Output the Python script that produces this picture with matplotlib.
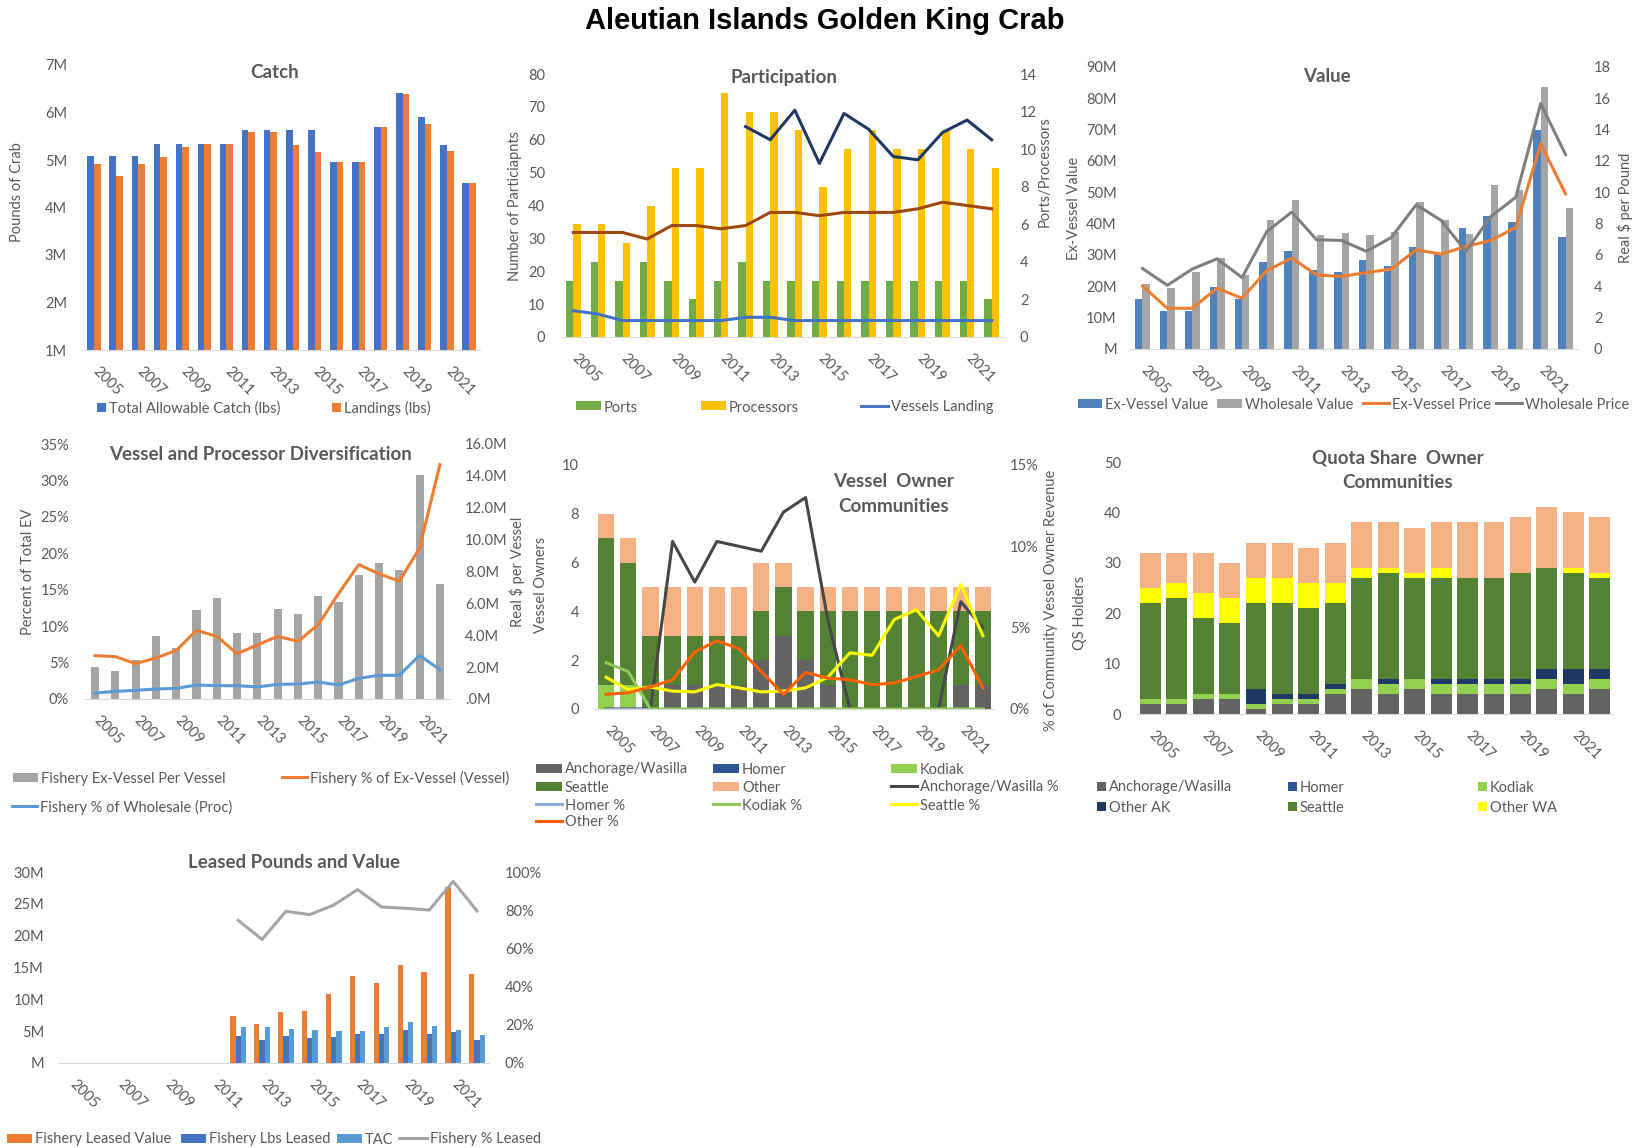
import numpy as np
import matplotlib
matplotlib.use("Agg")
import matplotlib.pyplot as plt
from matplotlib.patches import Rectangle
from matplotlib.lines import Line2D
from matplotlib.ticker import FuncFormatter
from matplotlib.transforms import ScaledTranslation

plt.rcParams['font.family'] = ['Lato', 'DejaVu Sans']

nan = np.nan
years = list(range(2005, 2023))
year_labels = [str(y) for y in years[::2]]

# Catch (lbs, millions)
catch_tac = [5.09, 5.09, 5.09, 5.34, 5.34, 5.34, 5.34, 5.64, 5.64, 5.64, 5.64, 4.95, 4.95, 5.69, 6.42, 5.91, 5.31, 4.51]
catch_landings = [4.92, 4.66, 4.91, 5.06, 5.28, 5.34, 5.34, 5.60, 5.60, 5.32, 5.16, 4.95, 4.95, 5.69, 6.40, 5.76, 5.18, 4.51]

# Participation
ports = [3, 4, 3, 4, 3, 2, 3, 4, 3, 3, 3, 3, 3, 3, 3, 3, 3, 2]
processors = [6, 6, 5, 7, 9, 9, 13, 12, 12, 11, 8, 10, 11, 10, 10, 11, 10, 9]
vessels_landing = [8, 7, 5, 5, 5, 5, 5, 6, 6, 5, 5, 5, 5, 5, 5, 5, 5, 5]
part_navy = [nan] * 7 + [64, 60, 69, 52.8, 68, 63.2, 54.9, 53.9, 62.2, 66, 60]
part_brown = [31.8, 31.8, 31.8, 29.8, 33.9, 33.9, 32.9, 33.9, 37.9, 37.9, 36.9, 37.9, 37.9, 37.9, 39, 41, 40, 39]

# Value ($ millions, $ per lb)
ev_value = [16.0, 12.2, 12.2, 19.8, 16.0, 27.9, 31.4, 25.2, 24.7, 28.3, 26.5, 32.5, 30.3, 38.7, 42.4, 40.6, 69.9, 35.8]
ws_value = [20.7, 19.5, 24.7, 29.1, 23.6, 41.3, 47.5, 36.4, 37.1, 36.4, 37.2, 46.8, 41.1, 36.7, 52.5, 50.7, 83.5, 44.9]
ev_price = [4.03, 2.6, 2.6, 3.88, 3.24, 5.01, 5.8, 4.73, 4.63, 4.88, 5.1, 6.33, 6.06, 6.55, 6.93, 7.76, 13.1, 9.9]
ws_price = [5.14, 4.07, 5.1, 5.76, 4.56, 7.5, 8.74, 6.97, 6.93, 6.23, 7.12, 9.21, 8.21, 6.23, 8.46, 9.68, 15.67, 12.41]

# Diversification
ev_per_vessel = [2.01, 1.74, 2.47, 3.93, 3.20, 5.56, 6.31, 4.14, 4.14, 5.65, 5.35, 6.49, 6.08, 7.80, 8.53, 8.11, 14.08, 7.20]
pct_ev_vessel = [5.95, 5.81, 4.85, 5.63, 6.68, 9.42, 8.6, 6.22, 7.41, 8.6, 7.91, 10.2, 14.46, 18.44, 17.2, 16.15, 20.72, 32.16]
pct_ws_proc = [0.82, 1.05, 1.19, 1.37, 1.46, 1.92, 1.83, 1.83, 1.65, 2.01, 2.06, 2.33, 1.92, 2.84, 3.25, 3.25, 5.99, 4.03]

# Vessel owner communities
vo_anch = [0, 0, 0, 1, 1, 1, 1, 2, 3, 2, 1, 0, 0, 0, 0, 0, 1, 1]
vo_homer = [0] * 18
vo_kodiak = [1, 1] + [0] * 16
vo_seattle = [6, 5, 3, 2, 2, 2, 2, 2, 2, 2, 3, 4, 4, 4, 4, 4, 3, 3]
vo_other = [1, 1, 2, 2, 2, 2, 2, 2, 1, 1, 1, 1, 1, 1, 1, 1, 1, 1]
vo_anch_pct = [0, 0, 0, 10.3, 7.8, 10.3, 10.0, 9.7, 12.1, 13.0, 5.5, 0, 0, 0, 0, 0, 6.6, 5.0]
vo_homer_pct = [0] * 18
vo_kodiak_pct = [2.85, 2.3] + [0] * 16
vo_seattle_pct = [1.95, 1.2, 1.35, 1.1, 1.05, 1.5, 1.3, 1.05, 1.1, 1.3, 1.95, 3.45, 3.3, 5.5, 6.1, 4.5, 7.65, 4.5]
vo_other_pct = [0.9, 1.0, 1.35, 1.8, 3.5, 4.2, 3.7, 2.3, 0.9, 2.25, 1.9, 1.8, 1.5, 1.6, 2.0, 2.4, 3.9, 1.3]

# Quota share owner communities
qs_anch = [2, 2, 3, 3, 1, 2, 2, 4, 5, 4, 5, 4, 4, 4, 4, 5, 4, 5]
qs_homer = [0] * 18
qs_kodiak = [1, 1, 1, 1, 1, 1, 1, 1, 2, 2, 2, 2, 2, 2, 2, 2, 2, 2]
qs_other_ak = [0, 0, 0, 0, 3, 1, 1, 1, 0, 1, 0, 1, 1, 1, 1, 2, 3, 2]
qs_seattle = [19, 20, 15, 14, 17, 18, 17, 16, 20, 21, 20, 20, 20, 20, 21, 20, 19, 18]
qs_other_wa = [3, 3, 5, 5, 5, 5, 5, 4, 2, 1, 1, 2, 0, 0, 0, 0, 1, 1]
qs_other = [7, 6, 8, 7, 7, 7, 7, 8, 9, 9, 9, 9, 11, 11, 11, 12, 11, 11]

# Leasing
lease_value = [nan] * 7 + [7.38, 6.13, 8.06, 8.17, 10.9, 13.7, 12.6, 15.4, 14.3, 27.6, 14.0]
lease_lbs = [nan] * 7 + [4.24, 3.61, 4.24, 3.98, 4.08, 4.5, 4.6, 5.13, 4.6, 4.87, 3.61]
lease_tac = [nan] * 7 + [5.6, 5.6, 5.39, 5.13, 4.97, 4.97, 5.6, 6.39, 5.76, 5.13, 4.45]
lease_pct = [nan] * 7 + [74.7, 64.7, 79.4, 77.7, 82.7, 90.8, 81.7, 81.0, 80.1, 95.1, 79.6]

W, H = 1637, 1148
GREY = '#595959'
TICK = 10.5
LEG = 10.5
x = np.arange(len(years))

fig = plt.figure(figsize=(W / 100, H / 100), dpi=100)
shift = ScaledTranslation(-4 / 100, 0, fig.dpi_scale_trans)


def add_ax(x0, y0, x1, y1):
    ax = fig.add_axes([x0 / W, 1 - y1 / H, (x1 - x0) / W, (y1 - y0) / H])
    for s in ('top', 'right', 'left'):
        ax.spines[s].set_visible(False)
    ax.spines['bottom'].set_color('#D9D9D9')
    ax.tick_params(length=0, labelsize=TICK, labelcolor=GREY)
    ax.tick_params(axis='y', pad=11.5)
    ax.tick_params(axis='x', pad=10)
    ax.set_xlim(-0.5, len(years) - 0.5)
    ax.set_xticks(x[::2])
    ax.set_xticklabels(year_labels, rotation=-45, ha='left', va='top')
    for lab in ax.get_xticklabels():
        lab.set_transform(lab.get_transform() + shift)
    ax.set_facecolor('none')
    return ax


def twin(ax):
    t = ax.twinx()
    for s in t.spines.values():
        s.set_visible(False)
    t.tick_params(length=0, labelsize=TICK, labelcolor=GREY, pad=11.5)
    return t


def px(xp, yp):
    return xp / W, 1 - yp / H


def title(xp, yp, s, size=13.5):
    fig.text(*px(xp, yp), s, ha='center', va='center', fontsize=size, fontweight='bold', color=GREY)


def ylabel(xp, yp, s):
    fig.text(*px(xp, yp), s, ha='center', va='center', rotation=90, fontsize=LEG, color=GREY)


def key(xp, yp, label, color, kind='box', w=25, h=9):
    if kind == 'box':
        fig.add_artist(Rectangle(px(xp, yp + h / 2), w / W, h / H, transform=fig.transFigure,
                                 facecolor=color, edgecolor='none'))
    else:
        fig.add_artist(Line2D([xp / W, (xp + w) / W], [1 - yp / H] * 2, transform=fig.transFigure,
                              color=color, lw=2.2))
    fig.text(*px(xp + w + 3, yp), label, ha='left', va='center_baseline', fontsize=LEG, color=GREY)


mfmt = FuncFormatter(lambda v, p: f'{v:.0f}M' if v else 'M')
pfmt = FuncFormatter(lambda v, p: f'{v:.0f}%')

fig.text(825 / W, 1 - 21 / H, 'Aleutian Islands Golden King Crab', ha='center', va='center',
         fontsize=21, fontweight='bold', family='Liberation Sans', color='black')

# ---- Catch
ax = add_ax(83, 65, 480, 350)
ax.bar(x - 0.15, catch_tac, 0.3, color='#4472C4')
ax.bar(x + 0.15, catch_landings, 0.3, color='#ED7D31')
ax.set_ylim(1, 7)
ax.set_yticks(range(1, 8))
ax.yaxis.set_major_formatter(FuncFormatter(lambda v, p: f'{v:.0f}M'))
title(275, 72, 'Catch')
ylabel(17, 192, 'Pounds of Crab')
key(97, 407, 'Total Allowable Catch (lbs)', '#4472C4', w=9, h=9)
key(332, 407, 'Landings (lbs)', '#ED7D31', w=9, h=9)

# ---- Participation
ax = add_ax(561, 74, 1004, 337)
tw = twin(ax)
tw.bar(x - 0.15, ports, 0.3, color='#70AD47')
tw.bar(x + 0.15, processors, 0.3, color='#FFC000')
tw.set_ylim(0, 14)
tw.set_yticks(range(0, 15, 2))
ax.set_zorder(tw.get_zorder() + 1)
ax.plot(x, vessels_landing, color='#4472C4', lw=2.2)
ax.plot(x, part_brown, color='#9E480E', lw=2.2)
ax.plot(x, part_navy, color='#203864', lw=2.2)
ax.set_ylim(0, 80)
ax.set_yticks(range(0, 81, 10))
title(784, 77, 'Participation')
ylabel(515, 206, 'Number of Particiapnts')
ylabel(1045, 172, 'Ports/Processors')
key(576, 406, 'Ports', '#70AD47')
key(701, 406, 'Processors', '#FFC000')
key(861, 406, 'Vessels Landing', '#4472C4', kind='line', w=27)

# ---- Value
ax = add_ax(1130, 67, 1578, 349)
ax.bar(x - 0.15, ev_value, 0.3, color='#4F81BD')
ax.bar(x + 0.15, ws_value, 0.3, color='#A5A5A5')
ax.set_ylim(0, 90)
ax.set_yticks(range(0, 91, 10))
ax.yaxis.set_major_formatter(mfmt)
ax.tick_params(axis='y', pad=9.5)
tw = twin(ax)
tw.plot(x, ev_price, color='#ED7D31', lw=2.2)
tw.plot(x, ws_price, color='#7F7F7F', lw=2.2)
tw.set_ylim(0, 18)
tw.set_yticks(range(0, 19, 2))
title(1327, 77, 'Value')
ylabel(1074, 208, 'Ex-Vessel Value')
ylabel(1625, 208, 'Real $ per Pound')
key(1078, 403, 'Ex-Vessel Value', '#4F81BD', w=24)
key(1217, 403, 'Wholesale Value', '#A5A5A5', w=25)
key(1363, 403, 'Ex-Vessel Price', '#ED7D31', kind='line', w=26)
key(1496, 403, 'Wholesale Price', '#7F7F7F', kind='line', w=26)

# ---- Vessel and Processor Diversification
ax = add_ax(85, 444, 450, 699)
tw = twin(ax)
tw.bar(x, ev_per_vessel, 0.4, color='#A5A5A5')
tw.set_ylim(0, 16)
tw.set_yticks(range(0, 17, 2))
tw.yaxis.set_major_formatter(FuncFormatter(lambda v, p: f'{v:.1f}M'.lstrip('0')))
tw.tick_params(pad=10.8)
ax.set_zorder(tw.get_zorder() + 1)
ax.plot(x, pct_ev_vessel, color='#ED7D31', lw=2.2)
ax.plot(x, pct_ws_proc, color='#5B9BD5', lw=2.2)
ax.set_ylim(0, 35)
ax.set_yticks(range(0, 36, 5))
ax.yaxis.set_major_formatter(pfmt)
title(260, 454, 'Vessel and Processor Diversification')
ylabel(28, 572, 'Percent of Total EV')
ylabel(517, 572, 'Real $ per Vessel')
key(13, 777, 'Fishery Ex-Vessel Per Vessel', '#A5A5A5')
key(282, 777, 'Fishery % of Ex-Vessel (Vessel)', '#ED7D31', kind='line')
key(12, 806, 'Fishery % of Wholesale (Proc)', '#5B9BD5', kind='line')

# ---- Vessel Owner Communities
ax = add_ax(595, 465, 994, 709)
vo_stack = [(vo_anch, '#636363'), (vo_homer, '#2F5597'), (vo_kodiak, '#92D050'),
            (vo_seattle, '#548235'), (vo_other, '#F4B183')]
bottom = np.zeros(len(years))
for vals, col in vo_stack:
    ax.bar(x, vals, 0.73, bottom=bottom, color=col)
    bottom += np.array(vals)
ax.set_ylim(0, 10)
ax.set_yticks(range(0, 11, 2))
tw = twin(ax)
for vals, col in [(vo_anch_pct, '#474747'), (vo_homer_pct, '#8FAADC'), (vo_kodiak_pct, '#8CCB5A'),
                  (vo_seattle_pct, '#FFFF00'), (vo_other_pct, '#FF6000')]:
    tw.plot(x, vals, color=col, lw=2.2)
tw.set_ylim(0, 15)
tw.set_yticks([0, 5, 10, 15])
tw.yaxis.set_major_formatter(pfmt)
title(894, 481, 'Vessel  Owner')
title(894, 507, 'Communities')
ylabel(541, 585, 'Vessel Owners')
ylabel(1051, 600, '% of Community Vessel Owner Revenue')
cols = [536, 713, 891]
rows = [768, 786, 804, 821]
vo_keys = [('Anchorage/Wasilla', '#636363', 'box'), ('Homer', '#2F5597', 'box'), ('Kodiak', '#92D050', 'box'),
           ('Seattle', '#548235', 'box'), ('Other', '#F4B183', 'box'), ('Anchorage/Wasilla %', '#474747', 'line'),
           ('Homer %', '#8FAADC', 'line'), ('Kodiak %', '#8CCB5A', 'line'), ('Seattle %', '#FFFF00', 'line'),
           ('Other %', '#FF6000', 'line')]
for i, (lab, col, kind) in enumerate(vo_keys):
    key(cols[i % 3], rows[i // 3], lab, col, kind=kind, w=26)

# ---- Quota Share Owner Communities
ax = add_ax(1137, 462, 1613, 714)
qs_stack = [(qs_anch, '#636363'), (qs_homer, '#2F5597'), (qs_kodiak, '#92D050'), (qs_other_ak, '#203864'),
            (qs_seattle, '#548235'), (qs_other_wa, '#FFFF00'), (qs_other, '#F4B183')]
bottom = np.zeros(len(years))
for vals, col in qs_stack:
    ax.bar(x, vals, 0.79, bottom=bottom, color=col)
    bottom += np.array(vals)
ax.set_ylim(0, 50)
ax.set_yticks(range(0, 51, 10))
title(1398, 458, 'Quota Share  Owner')
title(1398, 483, 'Communities')
ylabel(1080, 613, 'QS Holders')
qs_keys = [('Anchorage/Wasilla', '#636363'), ('Homer', '#2F5597'), ('Kodiak', '#92D050'),
           ('Other AK', '#203864'), ('Seattle', '#548235'), ('Other WA', '#FFFF00')]
for i, (lab, col) in enumerate(qs_keys):
    key([1097, 1288, 1478][i % 3], [786, 806][i // 3], lab, col, w=9, h=9)

# ---- Leased Pounds and Value
ax = add_ax(59, 872, 489, 1063)
ax.bar(x - 0.22, lease_value, 0.22, color='#ED7D31')
ax.bar(x, lease_lbs, 0.22, color='#4472C4')
ax.bar(x + 0.22, lease_tac, 0.22, color='#5B9BD5')
ax.set_ylim(0, 30)
ax.set_yticks(range(0, 31, 5))
ax.yaxis.set_major_formatter(mfmt)
ax.tick_params(axis='y', pad=10.8)
tw = twin(ax)
tw.plot(x, lease_pct, color='#A5A5A5', lw=2.2)
tw.set_ylim(0, 100)
tw.set_yticks(range(0, 101, 20))
tw.yaxis.set_major_formatter(pfmt)
title(294, 862, 'Leased Pounds and Value')
key(7, 1138, 'Fishery Leased Value', '#ED7D31')
key(181, 1138, 'Fishery Lbs Leased', '#4472C4')
key(337, 1138, 'TAC', '#5B9BD5')
key(399, 1138, 'Fishery % Leased', '#A5A5A5', kind='line', w=28)

fig.savefig('out.png', dpi=100)
